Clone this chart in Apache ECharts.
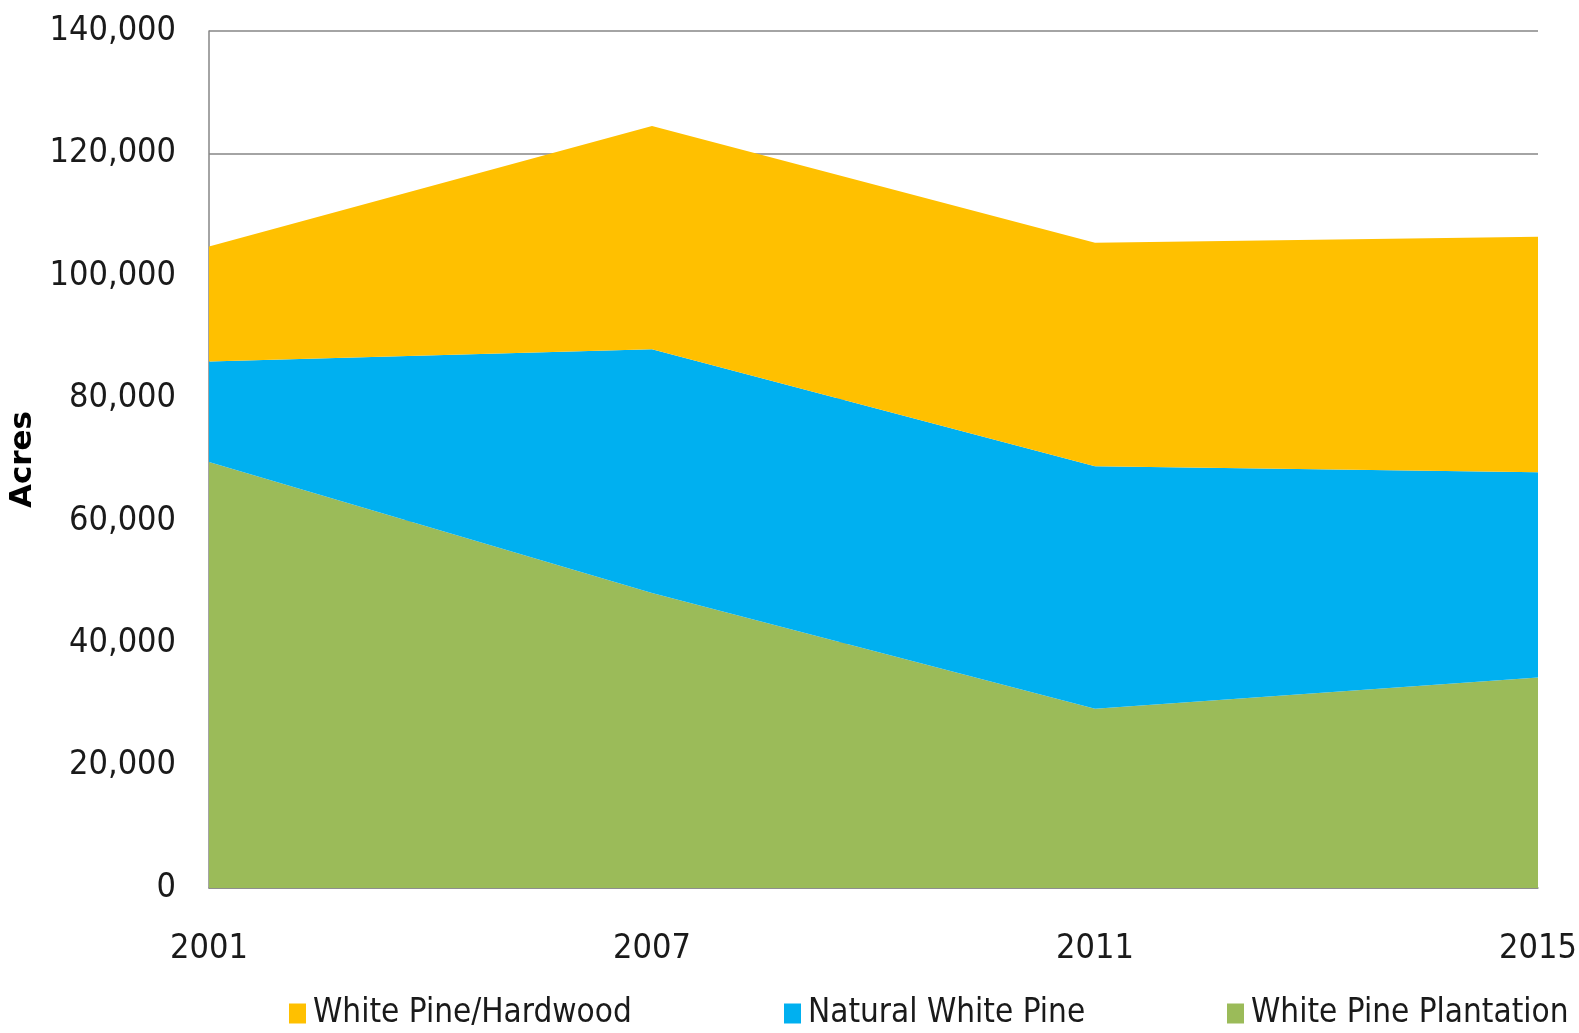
<!DOCTYPE html>
<html lang="en">
<head>
    <meta charset="utf-8">
    <title>White Pine Acres</title>
    <script src="https://cdn.jsdelivr.net/npm/echarts@6/dist/echarts.min.js"></script>
    <style>
        html, body { margin: 0; padding: 0; background: #fff; }
        #main { width: 1579px; height: 1033px; }
    </style>
</head>
<body>
    <div id="main"></div>
    <script type="text/javascript">
        var years = ['2001', '2007', '2011', '2015'];
        var plantation = [69600, 48200, 29300, 34400];
        var naturalPine = [16400, 39800, 39600, 33500];
        var hardwood = [18800, 36500, 36500, 38500];

        var font = '"DejaVu Sans Condensed", "Liberation Sans", sans-serif';
        var gray = '#868686';

        var myChart = echarts.init(document.getElementById('main'));

        function legendAt(left, name) {
            return {
                left: left,
                top: 992,
                data: [name],
                icon: 'rect',
                itemWidth: 17,
                itemHeight: 20,
                itemGap: 8,
                textStyle: { fontFamily: font, fontSize: 33, color: '#1a1a1a', padding: [0, 0, 0, 2] }
            };
        }

        function area(name, data, color) {
            return {
                name: name,
                type: 'line',
                stack: 'total',
                data: data,
                showSymbol: false,
                symbol: 'none',
                lineStyle: { width: 0 },
                itemStyle: { color: color },
                areaStyle: { color: color, opacity: 1 }
            };
        }

        myChart.setOption({
            animation: false,
            grid: { left: 209, right: 41, top: 31, bottom: 145, outerBoundsMode: 'none' },
            legend: [
                legendAt(284, 'White Pine/Hardwood'),
                legendAt(779, 'Natural White Pine'),
                legendAt(1222, 'White Pine Plantation')
            ],
            xAxis: {
                type: 'category',
                data: years,
                boundaryGap: false,
                axisLine: { lineStyle: { color: gray, width: 1.5 } },
                axisTick: { show: false },
                axisLabel: { fontFamily: font, fontSize: 34, color: '#1a1a1a', margin: 44 }
            },
            yAxis: {
                type: 'value',
                min: 0,
                max: 140000,
                interval: 20000,
                name: 'Acres',
                nameLocation: 'middle',
                nameGap: 142,
                nameRotate: 90,
                nameTextStyle: { fontFamily: '"DejaVu Sans", sans-serif', fontWeight: 'bold', fontSize: 31, color: '#000' },
                axisLine: { show: true, lineStyle: { color: gray, width: 1.5 } },
                axisTick: { show: false },
                splitLine: { lineStyle: { color: gray, width: 1.5 } },
                axisLabel: {
                    fontFamily: font, fontSize: 34, color: '#1a1a1a', margin: 33,
                    formatter: function (v) { return v.toLocaleString('en-US'); }
                }
            },
            series: [
                area('White Pine Plantation', plantation, '#9BBB59'),
                area('Natural White Pine', naturalPine, '#00B0F0'),
                area('White Pine/Hardwood', hardwood, '#FFC000')
            ]
        });
    </script>
</body>
</html>
